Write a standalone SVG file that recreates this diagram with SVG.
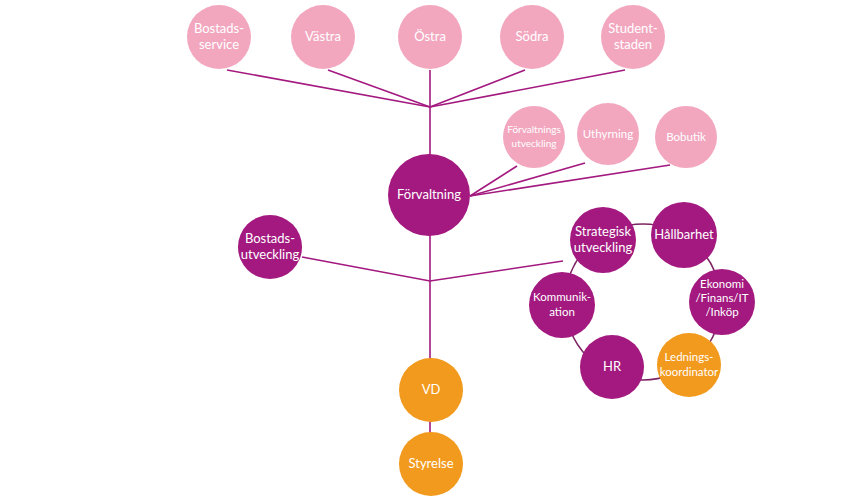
<svg xmlns="http://www.w3.org/2000/svg" width="850" height="500" viewBox="0 0 850 500">
<style>
.lp{fill:#F2A7BF}
.dm{fill:#A3197F}
.or{fill:#F29A1D}
.ln{stroke:#A3197F;stroke-width:1.6;fill:none}
.rg{stroke:#7E2464;stroke-width:1.6;fill:none}
text{font-family:Lato,"Liberation Sans",sans-serif;fill:#fff;text-anchor:middle;font-size:13px}
.s{font-size:10px}
.m{font-size:11.5px}
</style>
<rect width="850" height="500" fill="#fff"/>
<g id="connectors">
<line class="ln" x1="227" y1="70" x2="430" y2="107"/>
<line class="ln" x1="328" y1="70" x2="430" y2="107"/>
<line class="ln" x1="430" y1="70" x2="430" y2="107"/>
<line class="ln" x1="525" y1="70" x2="430" y2="107"/>
<line class="ln" x1="625" y1="70" x2="430" y2="107"/>
<line class="ln" x1="430" y1="107" x2="430" y2="360"/>
<line class="ln" x1="430" y1="420" x2="430" y2="434"/>
<line class="ln" x1="470" y1="196" x2="517" y2="166"/>
<line class="ln" x1="470" y1="196" x2="585" y2="163"/>
<line class="ln" x1="470" y1="196" x2="670" y2="165"/>
<polyline class="ln" points="302,257 430,281 563,261"/>
<circle class="rg" cx="643" cy="302" r="78"/>
</g>
<g id="bostadsservice"><circle class="lp" cx="219" cy="37" r="32"/><text x="219" y="33">Bostads-</text><text x="219" y="49">service</text></g>
<g id="vastra"><circle class="lp" cx="323" cy="37" r="32"/><text x="323" y="41">Västra</text></g>
<g id="ostra"><circle class="lp" cx="430" cy="37" r="32"/><text x="430" y="41">Östra</text></g>
<g id="sodra"><circle class="lp" cx="532" cy="37" r="32"/><text x="532" y="41">Södra</text></g>
<g id="studentstaden"><circle class="lp" cx="633" cy="37" r="32"/><text x="633" y="33">Student-</text><text x="633" y="49">staden</text></g>
<g id="forvaltningsutveckling"><circle class="lp" cx="534" cy="137" r="31"/><text class="s" x="534" y="133">Förvaltnings</text><text class="s" x="534" y="147">utveckling</text></g>
<g id="uthyrning"><circle class="lp" cx="608" cy="134" r="31"/><text class="m" x="608" y="138">Uthyrning</text></g>
<g id="bobutik"><circle class="lp" cx="686" cy="137" r="31"/><text class="m" x="686" y="141">Bobutik</text></g>
<g id="forvaltning"><circle class="dm" cx="429" cy="195" r="41"/><text x="429" y="199">Förvaltning</text></g>
<g id="bostadsutveckling"><circle class="dm" cx="270" cy="247" r="32"/><text x="270" y="243">Bostads-</text><text x="270" y="259">utveckling</text></g>
<g id="strategisk"><circle class="dm" cx="603" cy="240" r="33"/><text x="603" y="236">Strategisk</text><text x="603" y="252">utveckling</text></g>
<g id="hallbarhet"><circle class="dm" cx="684" cy="235" r="33"/><text x="684" y="239">Hållbarhet</text></g>
<g id="ekonomi"><circle class="dm" cx="722" cy="302" r="33"/><text class="m" x="722" y="288">Ekonomi</text><text class="m" x="722" y="302">/Finans/IT</text><text class="m" x="722" y="316">/Inköp</text></g>
<g id="kommunikation"><circle class="dm" cx="562" cy="305" r="33"/><text class="m" x="562" y="301">Kommunik-</text><text class="m" x="562" y="316">ation</text></g>
<g id="hr"><circle class="dm" cx="612" cy="367" r="32"/><text x="612" y="371">HR</text></g>
<g id="ledningskoordinator"><circle class="or" cx="689" cy="365" r="32"/><text class="m" x="689" y="361">Lednings-</text><text class="m" x="689" y="376">koordinator</text></g>
<g id="vd"><circle class="or" cx="431" cy="390" r="32"/><text x="431" y="394">VD</text></g>
<g id="styrelse"><circle class="or" cx="431" cy="464" r="32"/><text x="431" y="468">Styrelse</text></g>
</svg>
